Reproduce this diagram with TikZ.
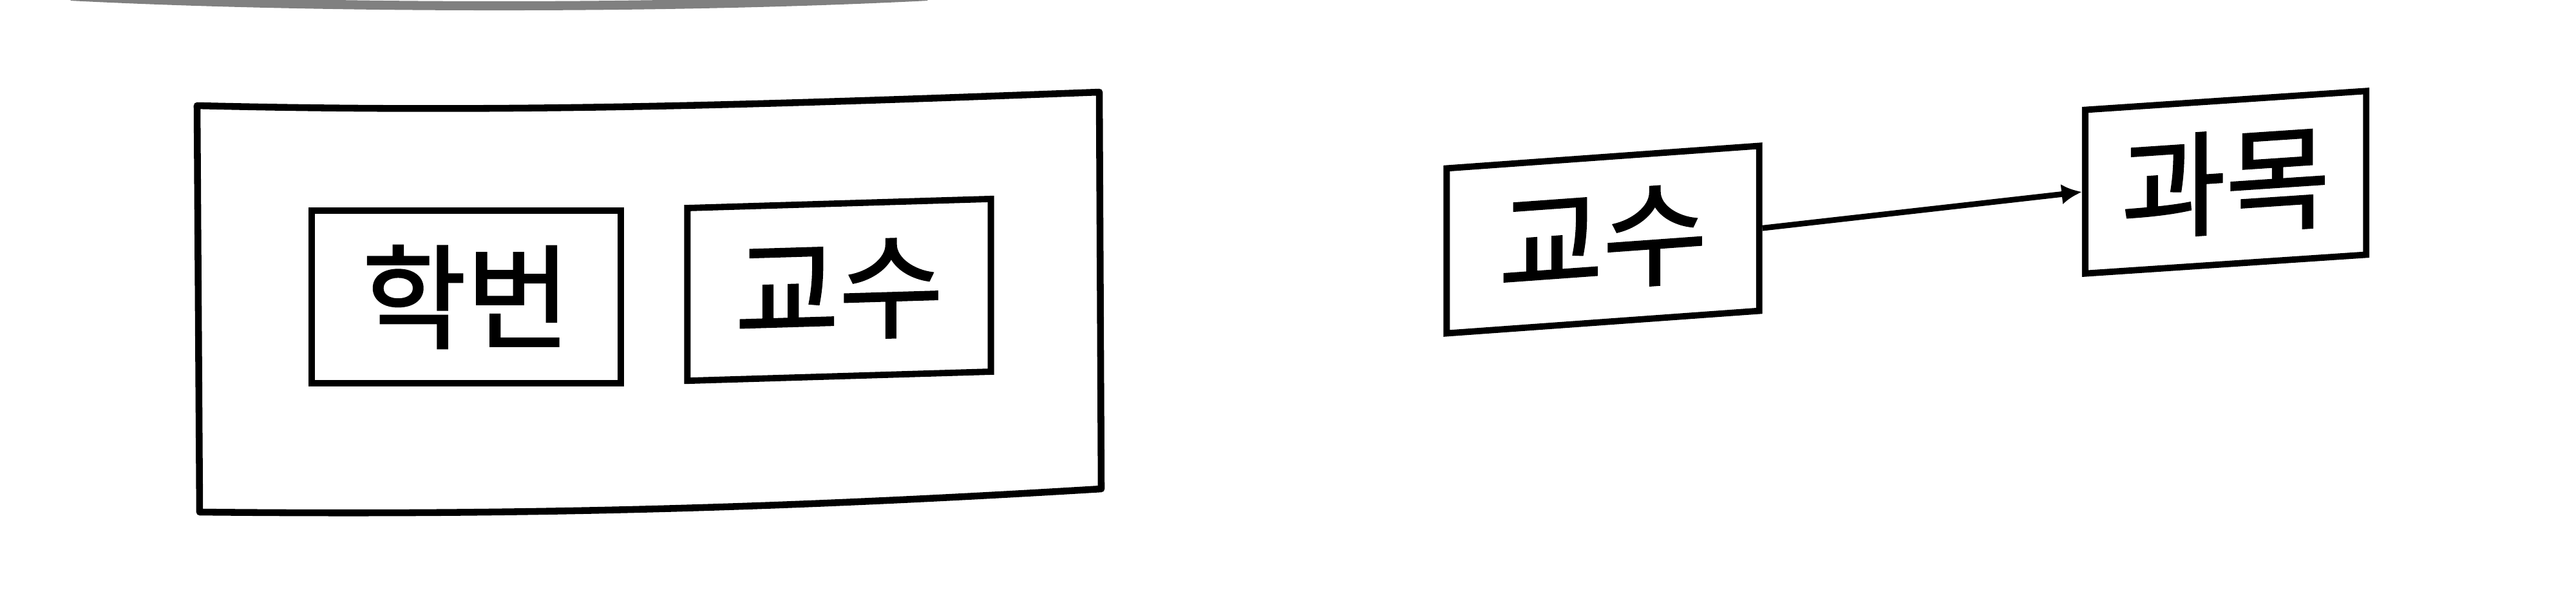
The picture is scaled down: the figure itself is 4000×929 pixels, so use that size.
\documentclass[tikz,border=0pt]{standalone}
\usepackage{fontspec}
\setmainfont{Noto Sans CJK KR}
\newfontfamily\lblfont{Noto Sans CJK KR}[FakeBold=1.6]
\usetikzlibrary{arrows.meta}
\begin{document}
\begin{tikzpicture}[x=0.01cm,y=-0.01cm,
  box/.style={draw=black, line width=2.8pt, inner sep=0pt, transform shape,
    font=\fontsize{50}{50}\lblfont},
  outerline/.style={draw=black, line width=3pt, line join=round},
  conn/.style={draw=black, line width=2.5pt, -{Latex[length=9pt,width=9pt]}},
  arcline/.style={draw=black!50, line width=4pt}]
\useasboundingbox (0,0) rectangle (4000,929);
% faint arc at top edge
\draw[arcline] (110,-6) .. controls (500,14) and (1050,14) .. (1440,-6);
% outer container
\coordinate (otl) at (306,164);
\coordinate (otr) at (1707,143);
\coordinate (obr) at (1710,759);
\coordinate (obl) at (310,795);
\draw[outerline] (otl) .. controls (800,176) and (1200,162) .. (otr) -- (obr)
  .. controls (1200,790) and (800,800) .. (obl) -- cycle;
% inner boxes
\node[box, minimum width=4.79cm, minimum height=2.68cm] (hb) at (724,461) {학번};
\node[box, yslant=0.03, minimum width=4.71cm, minimum height=2.68cm] (ks1) at (1303,450) {교수};
% right side
\node[box, yslant=0.072, minimum width=4.85cm, minimum height=2.56cm] (ks2) at (2489,372) {교수};
\node[box, yslant=0.067, minimum width=4.36cm, minimum height=2.54cm] (gm) at (3456,283) {과목};
\draw[conn] (ks2.east) -- (gm.west);
\end{tikzpicture}
\end{document}
